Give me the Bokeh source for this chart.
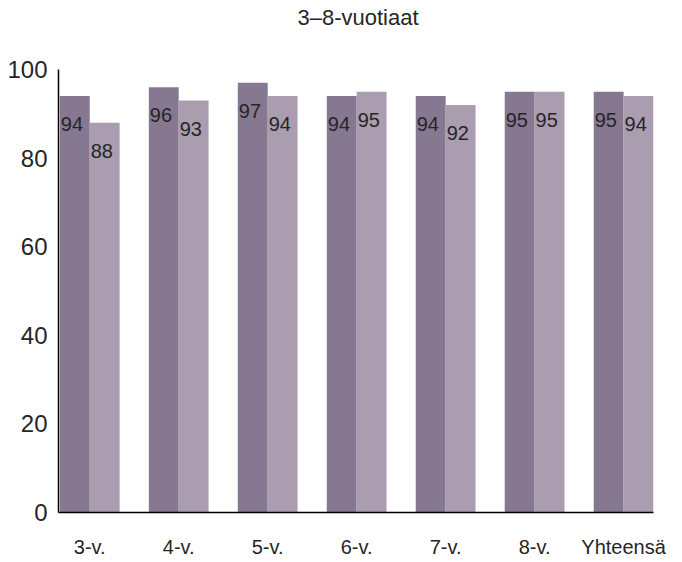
from bokeh.plotting import figure
from bokeh.models import ColumnDataSource, FixedTicker, Range1d, Div
from bokeh.layouts import column
from bokeh.embed import file_html
from bokeh.resources import INLINE
from bokeh.core.properties import value

categories = ["3-v.", "4-v.", "5-v.", "6-v.", "7-v.", "8-v.", "Yhteensä"]
series_a = [94, 96, 97, 94, 94, 95, 95]
series_b = [88, 93, 94, 95, 92, 95, 94]
y_ticks = [0, 20, 40, 60, 80, 100]
title_text = "3–8-vuotiaat"

DARK = "#857890"
LIGHT = "#a99daf"
TXT = "#262626"
FONT = "Liberation Sans"

bw = 0.336
idx = list(range(len(categories)))
src_a = ColumnDataSource(dict(x=[i - bw / 2 for i in idx], left=[i - bw for i in idx],
                              top=series_a, lab=[str(v) for v in series_a]))
src_b = ColumnDataSource(dict(x=[i + bw / 2 for i in idx], left=[i for i in idx],
                              top=series_b, lab=[str(v) for v in series_b]))

title = Div(text=(f'<div style="width:680px;box-sizing:border-box;padding-left:36px;padding-top:5px;'
                  f'text-align:center;font-family:\'{FONT}\';font-size:22px;line-height:25px;'
                  f'color:{TXT};">{title_text}</div>'),
            width=680, height=32, margin=(0, 0, 0, 0))

p = figure(width=680, height=528, output_backend="svg", toolbar_location=None,
           x_range=Range1d(-bw - 0.015, len(categories) - 1 + bw), y_range=Range1d(0, 100),
           min_border_left=58, min_border_right=27, min_border_top=37, min_border_bottom=47,
           margin=(0, 0, 0, 0))

p.vbar(x="x", width=bw, top="top", bottom=0, source=src_a, fill_color=DARK, line_color=None)
p.vbar(x="x", width=bw, top="top", bottom=0, source=src_b, fill_color=LIGHT, line_color=None)

for s in (src_a, src_b):
    p.text(x="left", y="top", text="lab", source=s, text_align="left", text_baseline="middle",
           x_offset=1, y_offset=28, text_font=value(FONT), text_font_size="20px", text_color=TXT)

p.grid.visible = False
p.outline_line_color = None
p.background_fill_color = "white"

p.xaxis.ticker = FixedTicker(ticks=idx)
p.xaxis.major_label_overrides = {i: c for i, c in enumerate(categories)}
p.yaxis.ticker = FixedTicker(ticks=y_ticks)
for ax in (p.xaxis, p.yaxis):
    ax.axis_line_color = "black"
    ax.axis_line_width = 1.5
    ax.major_tick_line_color = None
    ax.minor_tick_line_color = None
    ax.major_tick_out = 0
    ax.major_tick_in = 0
    ax.major_label_text_font = FONT
    ax.major_label_text_color = TXT
p.xaxis.major_label_text_font_size = "20px"
p.xaxis.major_label_standoff = 23
p.yaxis.major_label_text_font_size = "24px"
p.yaxis.major_label_standoff = 11

layout = column(title, p, spacing=0)
open("out.html", "w").write(file_html(layout, INLINE))
